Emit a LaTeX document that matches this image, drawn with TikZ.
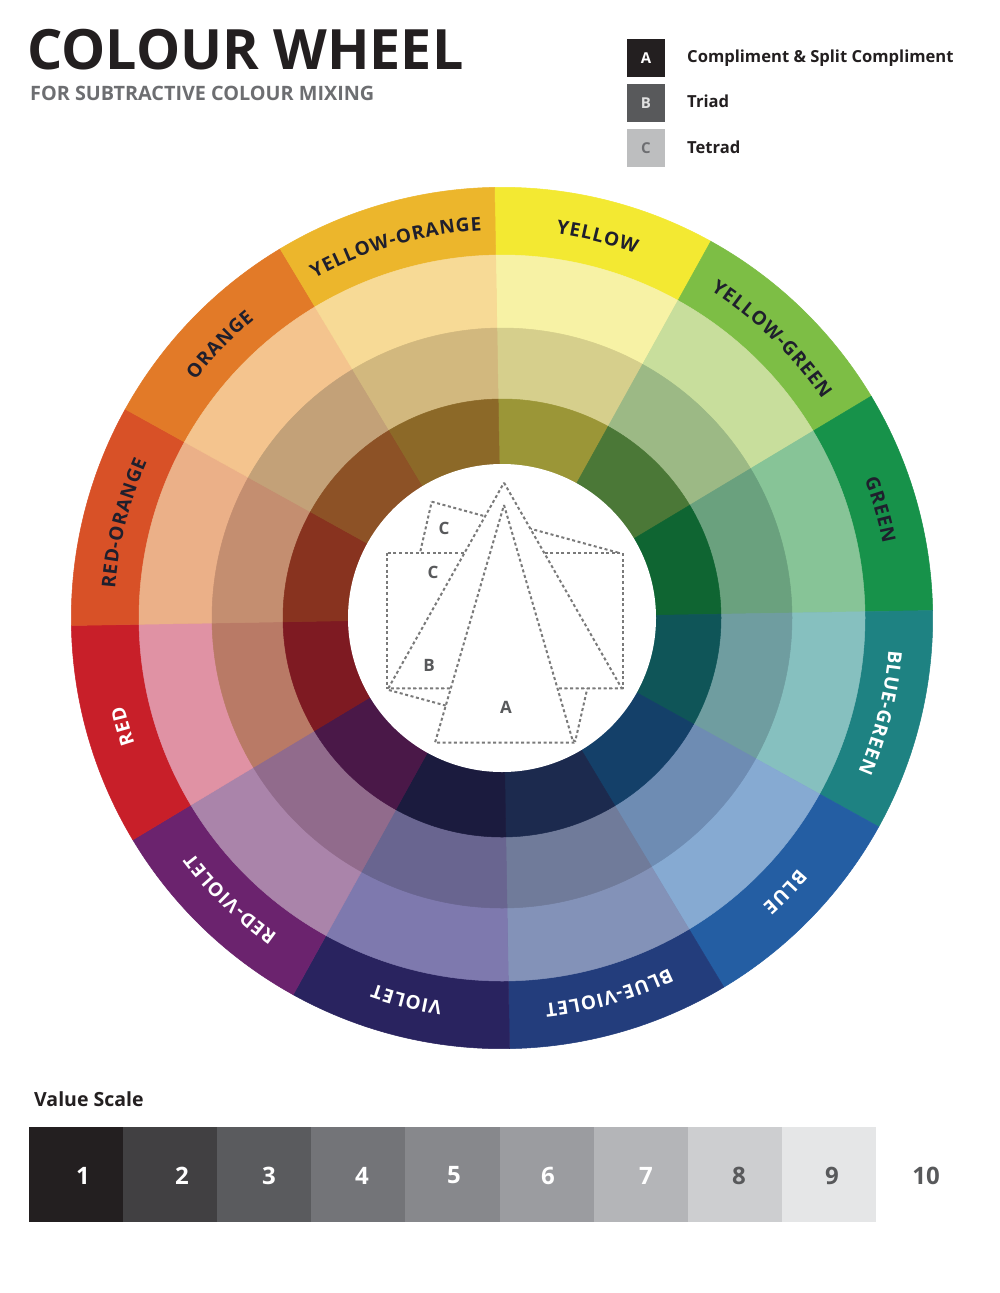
\documentclass[tikz,border=0pt]{standalone}
\usepackage{fontspec}
\setmainfont{Open Sans}
\usetikzlibrary{decorations.text}

% outer (pure) ring
\definecolor{o0}{HTML}{F3E932}\definecolor{o1}{HTML}{7DBE45}\definecolor{o2}{HTML}{17924A}
\definecolor{o3}{HTML}{1E8282}\definecolor{o4}{HTML}{245EA3}\definecolor{o5}{HTML}{233D7C}
\definecolor{o6}{HTML}{29235F}\definecolor{o7}{HTML}{6B236E}\definecolor{o8}{HTML}{C81F29}
\definecolor{o9}{HTML}{D85127}\definecolor{o10}{HTML}{E27A28}\definecolor{o11}{HTML}{ECB62C}
% tints
\definecolor{t0}{HTML}{F7F2A5}\definecolor{t1}{HTML}{C8DE9C}\definecolor{t2}{HTML}{87C497}
\definecolor{t3}{HTML}{86C0BF}\definecolor{t4}{HTML}{86AAD2}\definecolor{t5}{HTML}{8392B8}
\definecolor{t6}{HTML}{7E79AE}\definecolor{t7}{HTML}{AA84AA}\definecolor{t8}{HTML}{E092A4}
\definecolor{t9}{HTML}{EBB088}\definecolor{t10}{HTML}{F4C48E}\definecolor{t11}{HTML}{F7DA96}
% tones
\definecolor{n0}{HTML}{D6CF8C}\definecolor{n1}{HTML}{9CB985}\definecolor{n2}{HTML}{6AA17E}
\definecolor{n3}{HTML}{6F9DA0}\definecolor{n4}{HTML}{6E8CB3}\definecolor{n5}{HTML}{707B9A}
\definecolor{n6}{HTML}{696590}\definecolor{n7}{HTML}{916B8C}\definecolor{n8}{HTML}{B97A66}
\definecolor{n9}{HTML}{C48E70}\definecolor{n10}{HTML}{C3A178}\definecolor{n11}{HTML}{D2B87E}
% shades
\definecolor{s0}{HTML}{9B9637}\definecolor{s1}{HTML}{4B7837}\definecolor{s2}{HTML}{0F6532}
\definecolor{s3}{HTML}{0F5558}\definecolor{s4}{HTML}{144069}\definecolor{s5}{HTML}{1C2A4E}
\definecolor{s6}{HTML}{1B1B3E}\definecolor{s7}{HTML}{4A1848}\definecolor{s8}{HTML}{7E1A22}
\definecolor{s9}{HTML}{88331F}\definecolor{s10}{HTML}{8D5226}\definecolor{s11}{HTML}{8C6928}

\definecolor{ink}{HTML}{231F20}
\definecolor{lblink}{HTML}{1F1F2D}
\definecolor{subgray}{HTML}{6D6E71}
\definecolor{dotgray}{HTML}{7A7A7A}
\definecolor{diaggray}{HTML}{58595B}
\definecolor{g1}{HTML}{231F20}\definecolor{g2}{HTML}{414042}\definecolor{g3}{HTML}{5A5B5E}
\definecolor{g4}{HTML}{737478}\definecolor{g5}{HTML}{87888C}\definecolor{g6}{HTML}{9B9CA0}
\definecolor{g7}{HTML}{B4B5B8}\definecolor{g8}{HTML}{CDCED0}\definecolor{g9}{HTML}{E5E6E7}

\newcommand\wlabel[3]{%
  \path[decorate,decoration={text along path,text align=center,
    text={|\bfseries\fontsize{19}{19}\selectfont\color{#2}\kern0.9pt|#3}}]
    ({#1+25}:388) arc[start angle={#1+25},end angle={#1-25},radius=388];}

\begin{document}
\begin{tikzpicture}[x=1pt,y=1pt,
  legtxt/.style={font=\bfseries\fontsize{16.6}{20}\selectfont,text=ink,anchor=base west,inner sep=0pt},
  legbox/.style={minimum width=38pt,minimum height=38pt,inner sep=0pt,font=\bfseries\fontsize{15}{15}\selectfont},
  dotline/.style={draw=dotgray,line width=2pt,dash pattern=on 3pt off 2.6pt,fill=white},
  diaglbl/.style={font=\bfseries\fontsize{17}{17}\selectfont,text=diaggray,inner sep=0pt},
  valnum/.style={font=\bfseries\fontsize{24}{24}\selectfont,inner sep=0pt}]
\useasboundingbox (0,0) rectangle (1000,-1293);
\fill[white] (0,0) rectangle (1000,-1293);

% title
\node[anchor=base west,inner sep=0pt,text=ink,font=\bfseries\fontsize{55.6}{56}\selectfont] (title) at (27,-69) {COLOUR WHEEL};
\node[anchor=base west,inner sep=0pt,text=subgray,font=\bfseries\fontsize{19.8}{20}\selectfont] (subtitle) at (30,-100) {FOR SUBTRACTIVE COLOUR MIXING};

% legend
\node[legbox,fill=ink,text=white] (kA) at (646,-58) {A};
\node[legbox,fill=diaggray,text=white!88!black] (kB) at (646,-103) {B};
\node[legbox,fill=g8!92!black,text=subgray] (kC) at (646,-148) {C};
\node[legtxt] (tA) at (687,-62) {Compliment \& Split Compliment};
\node[legtxt] (tB) at (687,-107) {Triad};
\node[legtxt] (tC) at (687,-153) {Tetrad};

% wheel
\begin{scope}[shift={(502,-618)}]
  \foreach \k in {0,...,11}{
    \pgfmathsetmacro\a{91-30*\k}
    \pgfmathsetmacro\b{61-30*\k}
    \fill[o\k,draw=o\k,line width=0.5pt] (0,0) -- (\a:430.7) arc[start angle=\a,end angle=\b,radius=430.7] -- cycle;
  }
  \foreach \k in {0,...,11}{
    \pgfmathsetmacro\a{91-30*\k}
    \pgfmathsetmacro\b{61-30*\k}
    \fill[t\k,draw=t\k,line width=0.5pt] (0,0) -- (\a:363) arc[start angle=\a,end angle=\b,radius=363] -- cycle;
  }
  \foreach \k in {0,...,11}{
    \pgfmathsetmacro\a{91-30*\k}
    \pgfmathsetmacro\b{61-30*\k}
    \fill[n\k,draw=n\k,line width=0.5pt] (0,0) -- (\a:290) arc[start angle=\a,end angle=\b,radius=290] -- cycle;
  }
  \foreach \k in {0,...,11}{
    \pgfmathsetmacro\a{91-30*\k}
    \pgfmathsetmacro\b{61-30*\k}
    \fill[s\k,draw=s\k,line width=0.5pt] (0,0) -- (\a:219) arc[start angle=\a,end angle=\b,radius=219] -- cycle;
  }
  \fill[white] (0,0) circle[radius=154];

  \wlabel{76}{lblink}{YELLOW}
  \wlabel{46}{lblink}{YELLOW-GREEN}
  \wlabel{16}{lblink}{GREEN}
  \wlabel{-14}{white}{BLUE-GREEN}
  \wlabel{-44}{white}{BLUE}
  \wlabel{-74}{white}{BLUE-VIOLET}
  \wlabel{-104}{white}{VIOLET}
  \wlabel{-134}{white}{RED-VIOLET}
  \wlabel{-164}{white}{RED}
  \wlabel{166}{lblink}{RED-ORANGE}
  \wlabel{136}{lblink}{ORANGE}
  \wlabel{106}{lblink}{YELLOW-ORANGE}
\end{scope}

% harmony diagram
\path[dotline] (431.7,-501.7) -- (618.3,-552.7) -- (575.3,-741) -- (388.7,-690) -- cycle;
\path[dotline] (386.7,-552.7) rectangle (622.7,-688.3);
\path[dotline] (504,-482.7) -- (621.7,-688.3) -- (388.3,-688.3) -- cycle;
\path[dotline] (504,-505) -- (573.3,-742.7) -- (435,-742.7) -- cycle;
\node[diaglbl] (lC1) at (444,-528) {C};
\node[diaglbl] (lC2) at (433,-572) {C};
\node[diaglbl] (lB) at (429,-665) {B};
\node[diaglbl] (lA) at (506,-707) {A};

% value scale
\node[anchor=base west,inner sep=0pt,text=ink,font=\bfseries\fontsize{19.5}{20}\selectfont] (vtitle) at (34,-1106) {Value Scale};
\foreach \i in {1,...,9}{
  \fill[g\i] ({29+94.1*(\i-1)},-1127) rectangle ({29+94.1*\i},-1222);
}
\node[valnum,text=white] (v1) at (83,-1175.5) {1};
\node[valnum,text=white] (v2) at (182,-1175.5) {2};
\node[valnum,text=white] (v3) at (269,-1175.5) {3};
\node[valnum,text=white] (v4) at (362,-1175.5) {4};
\node[valnum,text=white] (v5) at (454,-1175.5) {5};
\node[valnum,text=white] (v6) at (548,-1175.5) {6};
\node[valnum,text=white] (v7) at (646,-1175.5) {7};
\node[valnum,text=diaggray] (v8) at (739,-1175.5) {8};
\node[valnum,text=diaggray] (v9) at (832,-1175.5) {9};
\node[valnum,text=diaggray] (v10) at (926,-1175.5) {10};
\end{tikzpicture}
\end{document}
